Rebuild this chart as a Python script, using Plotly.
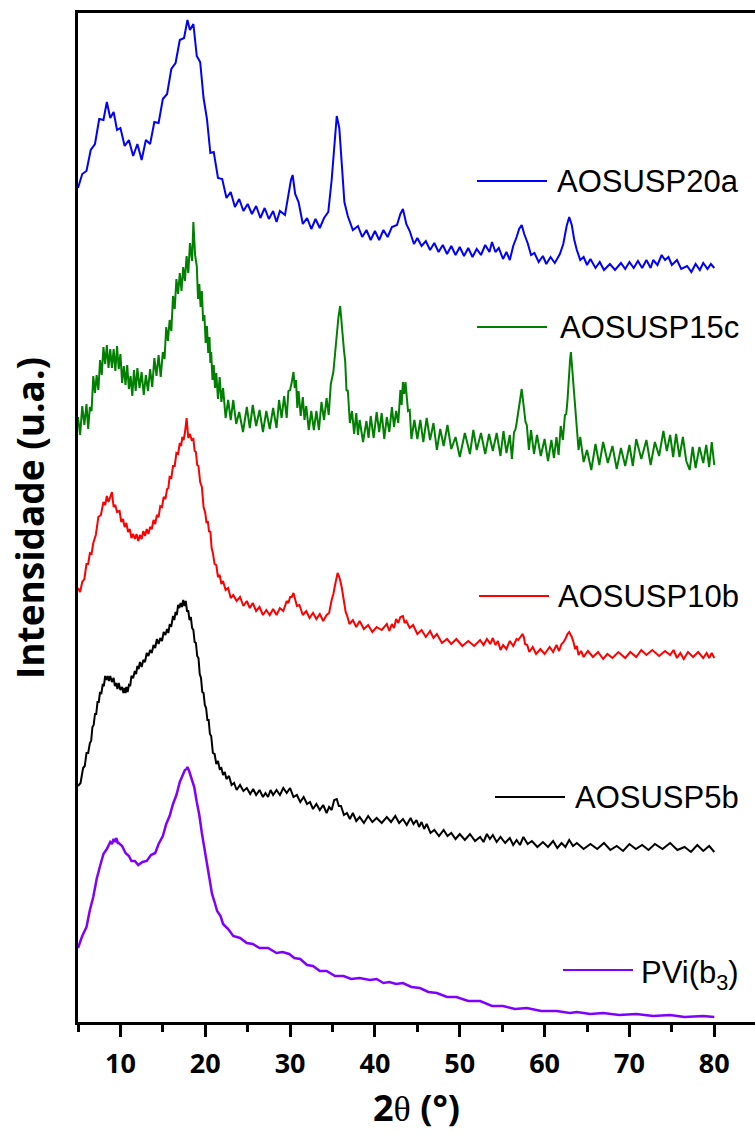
import plotly.graph_objects as go

# ---------------------------------------------------------------
# XRD patterns, 2θ (°) vs. intensity (u.a.); curves stacked with offsets
# ---------------------------------------------------------------

# PVi(b3)
pvi_x = [5.0, 5.5, 6.0, 6.4, 6.8, 7.2, 7.6, 8.0, 8.4, 8.8,
         9.0, 9.2, 9.4, 9.5, 9.7, 9.8, 10.2, 10.6, 11.0, 11.3,
         11.7, 12.1, 12.6, 13.1, 13.6, 14.1, 14.5, 15.0, 15.4, 15.8,
         16.2, 16.6, 17.0, 17.4, 17.6, 17.8, 17.9, 18.1, 18.4, 18.7,
         19.0, 19.3, 19.6, 19.9, 20.2, 20.5, 20.8, 21.1, 21.4, 21.8,
         22.1, 22.7, 23.3, 24.1, 24.9, 25.6, 26.4, 27.4, 28.4, 29.1,
         29.9, 30.5, 31.2, 32.0, 32.7, 33.5, 34.3, 35.3, 36.3, 37.2,
         38.2, 39.4, 40.2, 41.0, 41.7, 42.5, 43.3, 44.3, 45.3, 46.3,
         47.3, 48.5, 49.6, 51.0, 52.4, 53.8, 55.1, 56.5, 57.9, 59.6,
         61.4, 63.0, 63.8, 65.4, 66.9, 68.8, 70.8, 72.8, 74.8, 76.5,
         78.7, 80.0]
pvi_y = [74, 86, 95, 112, 125, 143, 156, 168, 173, 180,
         178, 183, 180, 184, 179, 179, 176, 169, 166, 161,
         161, 157, 160, 161, 167, 169, 178, 186, 198, 206,
         218, 227, 240, 247, 252, 253, 255, 251, 244, 235,
         220, 207, 189, 174, 156, 143, 128, 120, 111, 106,
         98, 93, 86, 84, 79, 78, 74, 74, 69, 70,
         68, 64, 63, 57, 56, 51, 51, 46, 46, 43,
         44, 42, 43, 39, 40, 38, 39, 35, 34, 30,
         29, 25, 25, 21, 21, 16, 16, 13, 14, 11,
         11, 9, 10, 8, 9, 7, 8, 6, 7, 5,
         6, 5]

# AOSUSP5b
s5b_x = [5.0, 5.3, 5.6, 5.8, 6.0, 6.2, 6.4, 6.55, 6.7, 6.85,
         7.0, 7.15, 7.3, 7.45, 7.6, 7.75, 7.9, 8.05, 8.2, 8.35,
         8.5, 8.65, 8.8, 9.0, 9.2, 9.35, 9.5, 9.65, 9.8, 10.0,
         10.2, 10.35, 10.5, 10.6, 10.7, 10.85, 11.0, 11.15, 11.3, 11.5,
         11.7, 11.85, 12.0, 12.15, 12.3, 12.5, 12.7, 12.9, 13.1, 13.3,
         13.5, 13.7, 13.9, 14.1, 14.3, 14.5, 14.7, 14.9, 15.1, 15.3,
         15.5, 15.65, 15.8, 16.0, 16.2, 16.35, 16.5, 16.65, 16.8, 16.95,
         17.1, 17.25, 17.4, 17.55, 17.7, 17.85, 18.0, 18.15, 18.3, 18.45,
         18.6, 18.75, 18.9, 19.05, 19.2, 19.35, 19.5, 19.65, 19.8, 19.95,
         20.1, 20.25, 20.4, 20.55, 20.7, 20.9, 21.1, 21.3, 21.5, 21.7,
         21.9, 22.1, 22.3, 22.5, 22.8, 23.1, 23.4, 23.7, 24.1, 24.5,
         24.9, 25.3, 25.65, 26.0, 26.4, 26.8, 27.1, 27.4, 27.7, 28.0,
         28.4, 28.8, 29.2, 29.6, 30.0, 30.4, 30.8, 31.2, 31.6, 32.0,
         32.35, 32.7, 33.1, 33.5, 33.9, 34.3, 34.6, 34.9, 35.2, 35.5,
         35.75, 36.0, 36.35, 36.7, 37.05, 37.4, 37.8, 38.2, 38.7, 39.2,
         39.7, 40.2, 40.8, 41.4, 41.9, 42.4, 42.85, 43.3, 43.75, 44.2,
         44.55, 44.9, 45.2, 45.5, 45.8, 46.1, 46.55, 47.0, 47.55, 48.1,
         48.55, 49.0, 49.5, 50.0, 50.6, 51.2, 51.8, 52.4, 52.8, 53.2,
         53.55, 53.9, 54.35, 54.8, 55.35, 55.9, 56.3, 56.7, 57.1, 57.5,
         58.0, 58.5, 59.15, 59.8, 60.4, 61.0, 61.5, 62.0, 62.45, 62.9,
         63.35, 63.8, 64.6, 65.4, 66.2, 67.0, 67.75, 68.5, 69.25, 70.0,
         70.75, 71.5, 72.25, 73.0, 73.9, 74.8, 75.65, 76.5, 77.25, 78.0,
         78.7, 79.4, 80.0]
s5b_y = [236, 239, 254, 256, 269, 269, 279, 281, 295, 297,
         308, 308, 320, 320, 330, 328, 337, 336, 346, 342,
         346, 341, 346, 340, 344, 336, 339, 333, 339, 332,
         335, 329, 334, 329, 335, 330, 337, 336, 346, 344,
         351, 348, 356, 353, 360, 355, 362, 360, 369, 366,
         372, 369, 377, 374, 383, 378, 384, 381, 390, 387,
         393, 389, 397, 396, 406, 402, 410, 407, 417, 414,
         419, 415, 422, 416, 421, 411, 411, 402, 405, 394,
         392, 380, 379, 366, 364, 348, 344, 330, 329, 317,
         314, 302, 302, 288, 286, 269, 268, 258, 261, 253,
         254, 247, 250, 243, 246, 237, 239, 232, 237, 231,
         234, 228, 233, 227, 232, 225, 229, 225, 232, 227,
         232, 227, 234, 229, 234, 225, 227, 220, 225, 218,
         220, 213, 218, 212, 217, 209, 215, 212, 222, 223,
         216, 216, 207, 209, 203, 209, 201, 205, 199, 206,
         200, 204, 199, 205, 200, 206, 199, 203, 197, 204,
         198, 202, 195, 200, 193, 198, 189, 192, 186, 192,
         186, 189, 183, 188, 182, 188, 181, 185, 180, 188,
         183, 187, 180, 185, 179, 184, 177, 182, 177, 185,
         178, 181, 175, 180, 175, 181, 174, 179, 175, 182,
         176, 179, 173, 178, 173, 179, 172, 176, 171, 178,
         173, 177, 172, 178, 173, 179, 172, 175, 170, 177,
         171, 176, 170]

# AOSUSP10b
s10b_x = [5.0, 5.25, 5.5, 5.75, 6.0, 6.2, 6.4, 6.6, 6.8, 7.1,
          7.4, 7.7, 8.0, 8.2, 8.4, 8.6, 8.8, 9.0, 9.2, 9.4,
          9.6, 9.9, 10.1, 10.3, 10.5, 10.7, 10.9, 11.1, 11.3, 11.5,
          11.7, 11.9, 12.1, 12.3, 12.5, 12.7, 12.9, 13.1, 13.3, 13.5,
          13.7, 13.9, 14.1, 14.3, 14.5, 14.7, 14.9, 15.1, 15.3, 15.5,
          15.65, 15.8, 16.0, 16.2, 16.4, 16.6, 16.8, 17.0, 17.15, 17.3,
          17.45, 17.6, 17.8, 17.9, 18.0, 18.2, 18.4, 18.6, 18.75, 18.9,
          19.05, 19.2, 19.4, 19.6, 19.8, 20.0, 20.15, 20.3, 20.45, 20.6,
          20.75, 20.9, 21.1, 21.3, 21.5, 21.7, 21.9, 22.1, 22.4, 22.7,
          23.0, 23.3, 23.7, 24.1, 24.5, 24.9, 25.25, 25.6, 26.0, 26.4,
          26.8, 27.2, 27.6, 28.0, 28.4, 28.8, 29.2, 29.6, 29.8, 30.0,
          30.2, 30.4, 30.6, 30.8, 31.1, 31.5, 31.9, 32.3, 32.7, 33.1,
          33.5, 33.9, 34.3, 34.6, 34.9, 35.1, 35.3, 35.45, 35.6, 35.75,
          35.9, 36.1, 36.25, 36.4, 36.55, 36.7, 37.0, 37.4, 37.8, 38.2,
          38.7, 39.2, 39.7, 40.2, 40.8, 41.4, 41.7, 42.0, 42.25, 42.5,
          42.75, 43.0, 43.3, 43.5, 43.7, 44.1, 44.5, 45.0, 45.5, 46.0,
          46.5, 46.9, 47.3, 47.9, 48.5, 49.0, 49.6, 50.3, 51.0, 51.7,
          52.4, 52.8, 53.2, 53.6, 53.9, 54.2, 54.5, 54.8, 55.1, 55.5,
          55.9, 56.3, 56.7, 56.9, 57.1, 57.25, 57.4, 57.55, 57.7, 57.95,
          58.2, 58.6, 59.0, 59.5, 60.0, 60.6, 61.0, 61.4, 61.7, 62.0,
          62.25, 62.5, 62.7, 62.9, 63.05, 63.2, 63.4, 63.6, 63.8, 64.0,
          64.3, 64.6, 65.1, 65.7, 66.3, 66.9, 67.4, 68.0, 68.7, 69.5,
          70.1, 70.8, 71.4, 72.0, 72.7, 73.5, 74.2, 74.8, 75.2, 75.6,
          76.0, 76.4, 76.9, 77.5, 78.1, 78.7, 79.1, 79.4, 79.7, 80.0]
s10b_y = [434, 430, 440, 443, 458, 458, 469, 468, 479, 487,
          505, 507, 520, 517, 526, 520, 525, 530, 515, 517,
          510, 511, 500, 503, 495, 499, 490, 493, 484, 488,
          483, 488, 481, 487, 483, 491, 486, 493, 488, 495,
          493, 502, 498, 507, 505, 516, 515, 525, 523, 533,
          534, 545, 544, 556, 556, 569, 568, 579, 576, 585,
          582, 589, 604, 592, 584, 588, 582, 583, 571, 570,
          557, 556, 540, 535, 515, 509, 499, 501, 490, 491,
          474, 469, 458, 457, 445, 447, 438, 441, 432, 434,
          424, 427, 421, 425, 416, 421, 414, 419, 411, 415,
          407, 412, 407, 413, 407, 414, 411, 421, 419, 425,
          425, 429, 423, 416, 417, 407, 411, 404, 409, 403,
          408, 401, 407, 409, 422, 428, 437, 444, 449, 446,
          442, 434, 425, 414, 410, 407, 398, 402, 395, 401,
          393, 397, 390, 395, 392, 398, 391, 398, 394, 403,
          399, 405, 406, 399, 401, 394, 397, 388, 392, 385,
          391, 384, 388, 379, 383, 378, 383, 376, 381, 376,
          382, 377, 383, 378, 384, 377, 381, 372, 377, 373,
          381, 376, 383, 382, 385, 387, 388, 385, 378, 377,
          370, 375, 368, 373, 368, 375, 370, 377, 371, 378,
          380, 384, 388, 390, 388, 385, 380, 373, 376, 367,
          371, 365, 371, 365, 370, 363, 368, 364, 370, 364,
          370, 365, 372, 367, 372, 366, 371, 367, 372, 364,
          369, 363, 370, 365, 370, 364, 369, 364, 369, 364]

# AOSUSP15c
s15c_x = [5.0, 5.25, 5.5, 5.75, 6.0, 6.2, 6.4, 6.6, 6.8, 7.0,
          7.2, 7.4, 7.6, 7.8, 8.0, 8.2, 8.4, 8.6, 8.8, 9.0,
          9.2, 9.4, 9.6, 9.8, 10.0, 10.2, 10.4, 10.6, 10.8, 11.0,
          11.2, 11.4, 11.6, 11.8, 12.0, 12.25, 12.5, 12.75, 13.0, 13.25,
          13.5, 13.75, 14.0, 14.25, 14.5, 14.75, 15.0, 15.2, 15.4, 15.6,
          15.8, 16.0, 16.2, 16.4, 16.6, 16.8, 17.0, 17.2, 17.4, 17.6,
          17.8, 18.0, 18.2, 18.45, 18.6, 18.8, 19.0, 19.15, 19.3, 19.45,
          19.6, 19.75, 19.9, 20.05, 20.2, 20.35, 20.5, 20.6, 20.7, 20.85,
          21.0, 21.15, 21.3, 21.5, 21.7, 21.9, 22.1, 22.4, 22.7, 23.0,
          23.3, 23.65, 24.0, 24.45, 24.9, 25.25, 25.6, 26.0, 26.4, 26.8,
          27.2, 27.6, 28.0, 28.4, 28.7, 29.0, 29.3, 29.6, 29.8, 30.0,
          30.2, 30.4, 30.55, 30.7, 30.85, 31.0, 31.25, 31.5, 31.7, 31.9,
          32.2, 32.5, 32.8, 33.1, 33.4, 33.7, 34.0, 34.3, 34.55, 34.8,
          35.1, 35.3, 35.5, 35.7, 35.9, 36.05, 36.2, 36.35, 36.5, 36.65,
          36.8, 37.05, 37.3, 37.55, 37.8, 38.0, 38.2, 38.6, 39.0, 39.25,
          39.5, 39.85, 40.2, 40.5, 40.8, 41.1, 41.4, 41.7, 42.0, 42.25,
          42.5, 42.75, 43.0, 43.15, 43.3, 43.45, 43.6, 43.75, 43.9, 44.1,
          44.3, 44.65, 45.0, 45.35, 45.7, 46.1, 46.5, 46.9, 47.3, 47.7,
          48.1, 48.55, 49.0, 49.5, 50.0, 50.6, 51.2, 51.6, 52.0, 52.5,
          53.0, 53.45, 53.9, 54.35, 54.8, 55.15, 55.5, 55.9, 56.15, 56.4,
          56.55, 56.7, 56.85, 57.0, 57.15, 57.3, 57.45, 57.6, 57.75, 57.9,
          58.15, 58.4, 58.75, 59.1, 59.55, 60.0, 60.4, 60.8, 61.1, 61.4,
          61.65, 61.9, 62.15, 62.4, 62.55, 62.7, 62.8, 62.9, 63.0, 63.1,
          63.2, 63.3, 63.4, 63.5, 63.65, 63.8, 64.0, 64.2, 64.6, 65.0,
          65.5, 66.0, 66.45, 66.9, 67.45, 68.0, 68.5, 69.0, 69.5, 70.0,
          70.4, 70.8, 71.4, 72.0, 72.5, 73.0, 73.5, 74.0, 74.4, 74.8,
          75.15, 75.5, 75.9, 76.3, 76.7, 77.1, 77.45, 77.8, 78.25, 78.7,
          79.05, 79.4, 79.7, 80.0]
s15c_y = [605, 587, 616, 597, 618, 593, 615, 611, 646, 629,
          647, 632, 662, 647, 675, 658, 677, 654, 673, 654,
          673, 651, 676, 653, 668, 639, 656, 637, 657, 633,
          646, 626, 652, 631, 654, 634, 650, 627, 647, 631,
          653, 635, 664, 646, 667, 645, 670, 663, 695, 681,
          702, 691, 726, 713, 743, 728, 749, 731, 755, 741,
          766, 749, 779, 761, 800, 767, 756, 723, 738, 715,
          731, 701, 707, 679, 696, 669, 685, 659, 670, 642,
          657, 634, 649, 623, 645, 620, 634, 604, 622, 602,
          622, 598, 610, 590, 615, 594, 617, 596, 612, 590,
          611, 593, 614, 594, 622, 604, 626, 604, 631, 632,
          640, 650, 634, 642, 614, 631, 606, 625, 602, 616,
          592, 611, 592, 611, 592, 620, 602, 624, 607, 638,
          650, 670, 692, 705, 716, 700, 682, 672, 660, 631,
          632, 599, 611, 588, 609, 587, 602, 580, 601, 584,
          606, 584, 610, 590, 609, 583, 605, 590, 615, 595,
          611, 599, 632, 617, 640, 628, 640, 622, 611, 612,
          583, 602, 583, 602, 580, 604, 582, 599, 572, 593,
          576, 597, 573, 585, 565, 589, 568, 592, 572, 589,
          568, 588, 571, 589, 566, 591, 569, 587, 563, 590,
          592, 599, 608, 617, 626, 633, 622, 612, 600, 597,
          572, 592, 568, 587, 566, 583, 561, 582, 564, 585,
          567, 596, 582, 607, 608, 622, 638, 652, 662, 670,
          660, 647, 635, 623, 608, 598, 572, 585, 560, 572,
          552, 578, 557, 580, 559, 576, 553, 574, 556, 577,
          556, 583, 563, 582, 557, 580, 566, 591, 571, 587,
          565, 588, 565, 585, 561, 552, 575, 554, 575, 559,
          577, 555, 580, 557]

# AOSUSP20a
s20a_x = [5.0, 5.5, 6.0, 6.5, 7.0, 7.5, 8.0, 8.4, 8.8, 9.2,
          9.6, 10.0, 10.5, 11.0, 11.5, 12.0, 12.5, 13.0, 13.5, 14.0,
          14.5, 15.0, 15.5, 16.0, 16.5, 17.0, 17.5, 17.9, 18.2, 18.6,
          19.0, 19.4, 19.8, 20.2, 20.6, 21.0, 21.5, 22.0, 22.5, 23.0,
          23.5, 24.0, 24.5, 25.0, 25.5, 26.0, 26.5, 27.0, 27.5, 28.0,
          28.4, 28.8, 29.4, 29.8, 30.1, 30.3, 30.6, 31.0, 31.5, 32.0,
          32.5, 33.0, 33.5, 34.0, 34.5, 34.9, 35.2, 35.5, 35.8, 36.1,
          36.4, 36.8, 37.4, 38.0, 38.5, 39.0, 39.5, 40.0, 40.5, 41.0,
          41.5, 42.0, 42.6, 43.0, 43.3, 43.7, 44.1, 44.6, 45.0, 45.5,
          46.0, 46.5, 47.0, 47.5, 48.0, 48.5, 49.0, 49.5, 50.0, 50.5,
          51.0, 51.5, 52.0, 52.5, 53.0, 53.5, 53.8, 54.2, 54.6, 55.1,
          55.5, 55.9, 56.3, 56.7, 57.0, 57.3, 57.6, 58.0, 58.4, 58.8,
          59.3, 59.8, 60.2, 60.7, 61.2, 61.8, 62.2, 62.6, 62.9, 63.2,
          63.5, 63.8, 64.2, 64.6, 65.0, 65.4, 66.0, 66.5, 67.0, 67.7,
          68.3, 69.0, 69.5, 70.0, 70.5, 71.0, 71.5, 72.0, 72.5, 72.8,
          73.3, 73.8, 74.2, 74.6, 75.0, 75.6, 76.1, 76.8, 77.3, 77.8,
          78.3, 78.7, 79.2, 79.6, 80.0]
s20a_y = [834, 848, 851, 872, 878, 903, 902, 920, 904, 910,
          892, 894, 876, 882, 866, 878, 862, 882, 878, 900,
          899, 923, 928, 953, 959, 982, 984, 1002, 992, 998,
          966, 960, 924, 903, 869, 870, 844, 843, 824, 830,
          815, 823, 811, 818, 808, 816, 804, 814, 803, 811,
          800, 811, 807, 827, 842, 847, 828, 820, 798, 804,
          793, 803, 794, 804, 810, 842, 877, 906, 894, 857,
          820, 806, 792, 796, 785, 792, 782, 791, 782, 792,
          785, 795, 797, 808, 813, 798, 791, 778, 784, 776,
          781, 772, 779, 770, 777, 768, 776, 767, 775, 766,
          774, 765, 773, 767, 777, 770, 780, 770, 774, 763,
          770, 762, 776, 785, 793, 797, 788, 779, 767, 769,
          760, 766, 758, 765, 759, 768, 778, 796, 805, 797,
          782, 772, 762, 765, 757, 763, 754, 760, 752, 758,
          752, 759, 753, 760, 754, 761, 754, 762, 754, 762,
          757, 767, 762, 765, 757, 762, 753, 756, 750, 758,
          752, 759, 753, 758, 754]

labels = ["PVi(b<sub>3</sub>)", "AOSUSP5b", "AOSUSP10b", "AOSUSP15c", "AOSUSP20a"]
series_x = [pvi_x, s5b_x, s10b_x, s15c_x, s20a_x]
series_y = [pvi_y, s5b_y, s10b_y, s15c_y, s20a_y]

# ---------------------------------------------------------------
# styling
# ---------------------------------------------------------------
colors = ["#8000FF", "#000000", "#FF0000", "#008000", "#0000FF"]
widths = [2.5, 2, 2, 2, 2]

W, H = 755, 1131
ML, MR, MT, MB = 78, 0, 13, 109
PLOT_W = W - ML - MR
PLOT_H = H - MT - MB


def paper_x(px):
    return (px - ML) / PLOT_W


def paper_y(py):
    return (H - MB - py) / PLOT_H


# key entries: line start/end and vertical position (page pixels)
key_layout = [
    (563, 633, 970),
    (495, 565, 797),
    (479, 549, 596),
    (477, 547, 327),
    (477, 547, 181),
]
KEY_TEXT_RIGHT = 741

fig = go.Figure()

for xs, ys, col, w in zip(series_x, series_y, colors, widths):
    assert len(xs) == len(ys)
    fig.add_trace(go.Scatter(
        x=xs, y=ys, mode="lines",
        line=dict(color=col, width=w),
        showlegend=False, hoverinfo="skip",
    ))

for lab, col, (x0, x1, yk) in zip(labels, colors, key_layout):
    fig.add_shape(type="line", xref="paper", yref="paper",
                  x0=paper_x(x0), x1=paper_x(x1),
                  y0=paper_y(yk), y1=paper_y(yk),
                  line=dict(color=col, width=2))
    dy = 5 if "<sub>" in lab else 0
    fig.add_annotation(xref="paper", yref="paper",
                       x=paper_x(KEY_TEXT_RIGHT), y=paper_y(yk + dy),
                       xanchor="right", yanchor="middle",
                       text=lab, showarrow=False,
                       font=dict(family="Liberation Sans, Arial", size=31,
                                 color="#000000"))

# axis titles
fig.add_annotation(xref="paper", yref="paper",
                   x=paper_x(416.5), y=paper_y(1107),
                   xanchor="center", yanchor="middle", showarrow=False,
                   text="2<span style='font-family:Liberation Serif;font-weight:normal'>θ</span> (°)",
                   font=dict(family="Open Sans", size=36, color="#000000",
                             weight="bold"))
fig.add_annotation(xref="paper", yref="paper",
                   x=paper_x(29), y=paper_y(518),
                   xanchor="center", yanchor="middle", showarrow=False,
                   textangle=-90,
                   text="Intensidade (u.a.)",
                   font=dict(family="Open Sans", size=37, color="#000000",
                             weight="bold"))

fig.update_layout(
    width=W, height=H,
    margin=dict(l=ML, r=MR, t=MT, b=MB, pad=0),
    paper_bgcolor="white", plot_bgcolor="white",
    showlegend=False,
)

fig.update_xaxes(
    range=[5, 84.8],
    showline=True, linecolor="black", linewidth=2.5, mirror=True,
    showgrid=False, zeroline=False,
    ticks="outside", ticklen=12, tickwidth=2.5, tickcolor="black",
    tick0=0, dtick=10,
    minor=dict(ticks="outside", ticklen=7, tickwidth=2.5, tickcolor="black",
               dtick=5, tick0=0, showgrid=False),
    tickfont=dict(family="Open Sans", size=27, color="black", weight="bold"),
    ticklabelstandoff=4,
)
fig.update_yaxes(
    range=[0, PLOT_H],
    showline=True, linecolor="black", linewidth=2.5, mirror=False,
    showgrid=False, zeroline=False,
    showticklabels=False, ticks="",
)

fig.write_html("out.html")
